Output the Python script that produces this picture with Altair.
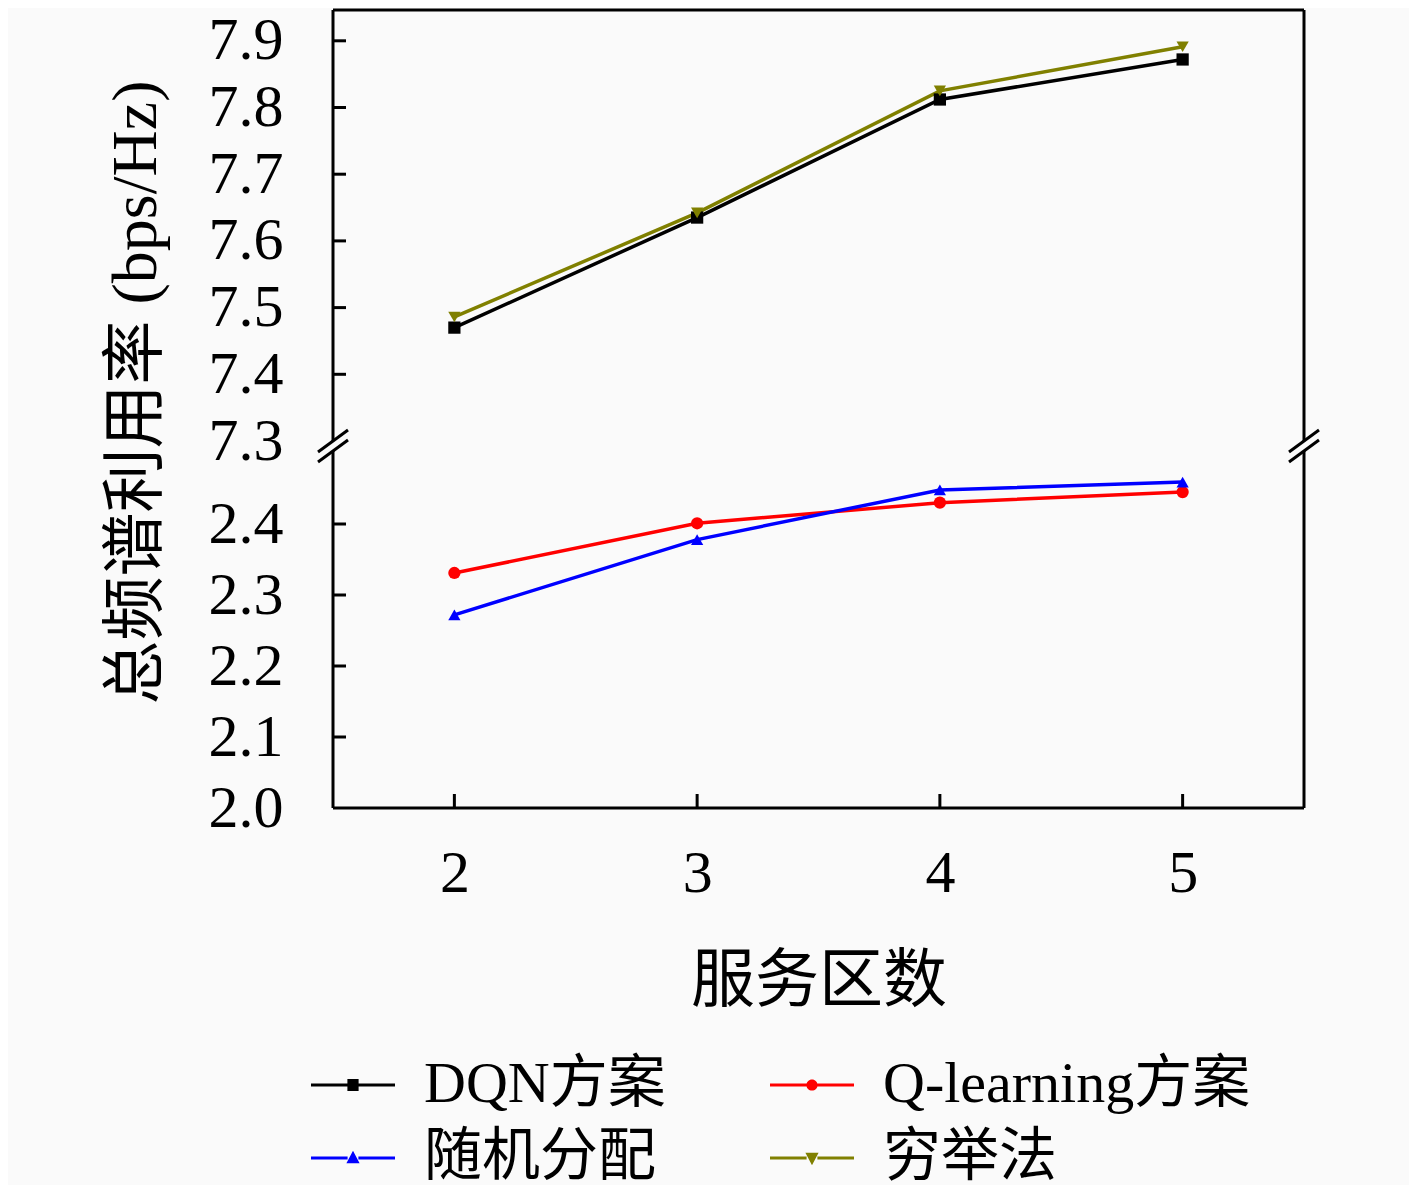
import altair as alt
import pandas as pd

# ---------------- data ----------------
x_vals = [2, 3, 4, 5]
dqn = [7.470, 7.635, 7.812, 7.872]
qlearn = [2.331, 2.401, 2.430, 2.445]
rand_alloc = [2.272, 2.378, 2.448, 2.459]
exhaustive = [7.486, 7.642, 7.825, 7.891]

series_names = ["DQN方案", "Q-learning方案", "随机分配", "穷举法"]
series_values = [dqn, qlearn, rand_alloc, exhaustive]
series_colors = ["#000000", "#ff0000", "#0000ff", "#808000"]
series_shapes = ["square", "circle", "triangle-up", "triangle-down"]
series_sizes = [150, 150, 210, 210]

lower_ticks = [2.0, 2.1, 2.2, 2.3, 2.4]
upper_ticks = [7.3, 7.4, 7.5, 7.6, 7.7, 7.8, 7.9]
x_ticks = [2, 3, 4, 5]

x_title = "服务区数"
y_title = "总频谱利用率 (bps/Hz)"

# ---------------- broken-axis layout ----------------
W, H = 971, 798
X_MIN, X_MAX = 1.5, 5.5
LOW_BASE, LOW_K = 2.0, 710.0          # px per unit, lower segment
UP_BASE, UP_OFF, UP_K = 7.3, 367.0, 667.0  # upper segment
GAP_LO, GAP_HI = 357, 367
PX_X = W / (X_MAX - X_MIN)

def to_t(v):
    return (v - LOW_BASE) * LOW_K if v < 5 else UP_OFF + (v - UP_BASE) * UP_K

T_EXPR = (f"datum.v < 5 ? (datum.v - {LOW_BASE}) * {LOW_K} : "
          f"{UP_OFF} + (datum.v - {UP_BASE}) * {UP_K}")
LABEL_EXPR = (f"datum.value < 361 ? format({LOW_BASE} + datum.value / {LOW_K}, '.1f') : "
              f"format({UP_BASE} + (datum.value - {UP_OFF}) / {UP_K}, '.1f')")

FONT = "Liberation Serif, Noto Sans CJK SC"

rows = []
for name, vals in zip(series_names, series_values):
    for xv, v in zip(x_vals, vals):
        rows.append({"x": xv, "v": v, "series": name})
df = pd.DataFrame(rows)

y_tick_pos = [to_t(v) for v in lower_ticks + upper_ticks]

# frame segments (data units)
frame_df = pd.DataFrame([
    {"x": X_MIN, "x2": X_MIN, "y": 0, "y2": GAP_LO},
    {"x": X_MIN, "x2": X_MIN, "y": GAP_HI, "y2": H},
    {"x": X_MAX, "x2": X_MAX, "y": 0, "y2": GAP_LO},
    {"x": X_MAX, "x2": X_MAX, "y": GAP_HI, "y2": H},
    {"x": X_MIN, "x2": X_MAX, "y": 0, "y2": 0},
    {"x": X_MIN, "x2": X_MAX, "y": H, "y2": H},
])

dx = 15 / PX_X
slash_df = pd.DataFrame(
    [{"x": xb - dx, "x2": xb + dx, "y": y0, "y2": y0 + 22}
     for xb in (X_MIN, X_MAX) for y0 in (346, 356)]
)

tick_len = 13 / PX_X
lt = [to_t(v) for v in lower_ticks[1:] + upper_ticks[1:]]
ytick_df = pd.DataFrame({"x": [X_MIN] * len(lt), "x2": [X_MIN + tick_len] * len(lt), "y": lt, "y2": lt})
xtick_df = pd.DataFrame({"x": x_ticks, "x2": x_ticks, "y": [0] * 4, "y2": [14] * 4})
deco_df = pd.concat([frame_df, slash_df, ytick_df, xtick_df], ignore_index=True)

xscale = alt.Scale(domain=[X_MIN, X_MAX], nice=False, zero=False)
yscale = alt.Scale(domain=[0, H], nice=False, zero=False)

def cscale():
    return alt.Scale(domain=series_names, range=series_colors)

x_enc = alt.X("x:Q", scale=xscale,
              axis=alt.Axis(values=x_ticks, format="d", title=x_title,
                            labelFont="Liberation Serif", labelFontSize=60,
                            labelPadding=36, titleFont=FONT, titleFontSize=64,
                            titleFontWeight="normal", titlePadding=46,
                            ticks=False, domain=False, grid=False,
                            labelColor="black", titleColor="black"))
y_enc = alt.Y("t:Q", scale=yscale,
              axis=alt.Axis(values=y_tick_pos, labelExpr=LABEL_EXPR, title=y_title,
                            labelFont="Liberation Serif", labelFontSize=60,
                            labelPadding=50, titleFont=FONT, titleFontSize=64,
                            titleFontWeight="normal", titlePadding=40, titleY=382,
                            ticks=False, domain=False, grid=False, labelFlush=False,
                            labelColor="black", titleColor="black"))

base = alt.Chart(df).transform_calculate(t=T_EXPR)

lines = base.mark_line(strokeWidth=3.5).encode(
    x=x_enc, y=y_enc,
    color=alt.Color("series:N", scale=cscale(), legend=None),
    order=alt.Order("x:Q"),
    detail="series:N",
)

points = base.mark_point(filled=True, opacity=1).encode(
    x="x:Q", y="t:Q",
    color=alt.Color("series:N", scale=cscale(), legend=None),
    shape=alt.Shape("series:N", scale=alt.Scale(domain=series_names, range=series_shapes), legend=None),
    size=alt.Size("series:N", scale=alt.Scale(domain=series_names, range=series_sizes), legend=None),
)

bars = "M-2.1,-0.08H-0.27V0.08H-2.1Z M0.27,-0.08H2.1V0.08H0.27Z "
legend_paths = [
    bars + "M-0.28,-0.3H0.28V0.3H-0.28Z",
    bars + "M0.28,0A0.28,0.28 0 1,1 -0.28,0A0.28,0.28 0 1,1 0.28,0Z",
    bars + "M0,-0.36L0.33,0.26L-0.33,0.26Z",
    bars + "M-0.33,-0.26L0.33,-0.26L0,0.36Z",
]

legend_props = dict(orient="none", legendX=-9, legendY=1046, columns=2,
                    direction="horizontal", title=None, labelFont=FONT,
                    labelFontSize=58, labelColor="black", labelLimit=600,
                    symbolSize=1600, labelOffset=42, rowPadding=15,
                    columnPadding=104, symbolStrokeWidth=0, symbolOpacity=1)

legend_layer = base.transform_filter("false").mark_point(filled=True, opacity=1).encode(
    x="x:Q", y="t:Q",
    color=alt.Color("series:N", scale=cscale(), legend=alt.Legend(**legend_props)),
    shape=alt.Shape("series:N", scale=alt.Scale(domain=series_names, range=legend_paths),
                    legend=alt.Legend(**legend_props)),
)

deco = alt.Chart(deco_df).mark_rule(color="black", strokeWidth=3).encode(
    x="x:Q", x2="x2:Q", y="y:Q", y2="y2:Q"
)

chart = alt.layer(lines, points, legend_layer, deco).resolve_scale(
    color="independent", shape="independent", size="independent"
).properties(
    width=W, height=H,
    autosize=alt.AutoSizeParams(type="none"),
    padding={"left": 325, "top": 2, "right": 105, "bottom": 377},
    background="#fafafa",
).configure_view(strokeWidth=0)

chart.save("out.html", embed_options={"renderer": "svg", "actions": False})
